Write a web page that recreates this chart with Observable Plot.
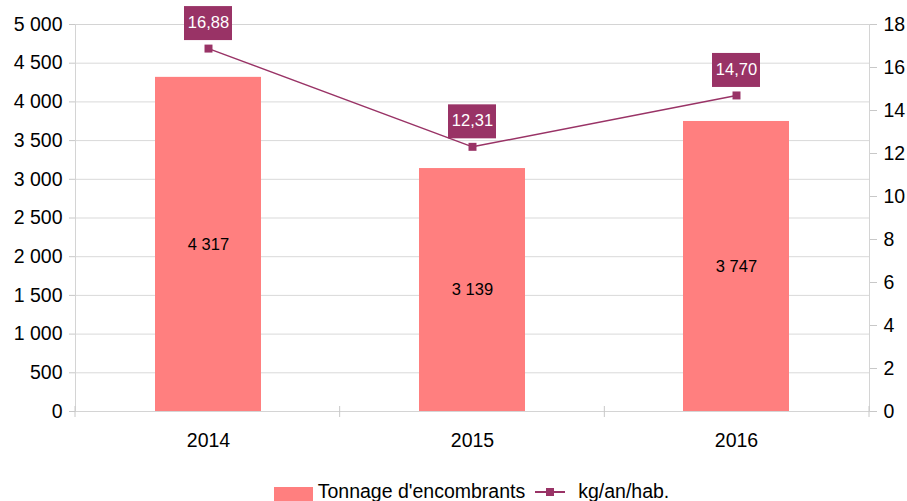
<!DOCTYPE html>
<html>
<head>
<meta charset="utf-8">
<script src="https://cdn.jsdelivr.net/npm/d3@7"></script>
<script src="https://cdn.jsdelivr.net/npm/@observablehq/plot@0.6"></script>
<style>
  html, body { margin: 0; padding: 0; background: #fff; overflow: hidden; }
  body { font-family: "Liberation Sans", Arial, sans-serif; width: 907px; height: 501px; }
  #legend { display: flex; justify-content: center; align-items: center; height: 21px; margin-top: 1px; font-size: 19.5px; color: #000; white-space: nowrap; padding-left: 36px; }
  .sw { display: inline-block; width: 39px; height: 14px; background: #ff7f7f; margin-right: 5px; margin-top: 5px; }
  .ln { display: inline-block; width: 30px; height: 14px; position: relative; margin-left: 10px; margin-right: 13px; }
  .ln::before { content: ""; position: absolute; left: 0; right: 0; top: 6px; height: 2px; background: #993366; }
  .ln::after { content: ""; position: absolute; left: 11px; top: 3px; width: 8px; height: 8px; background: #993366; }
</style>
</head>
<body>
<div id="chart"></div>
<div id="legend"><span class="sw"></span><span>Tonnage d'encombrants</span><span class="ln"></span><span>kg/an/hab.</span></div>
<script>
const years = ["2014", "2015", "2016"];
const tonnage = [4317, 3139, 3747];
const kgHab = [16.88, 12.31, 14.70];
const leftTicks = [0, 500, 1000, 1500, 2000, 2500, 3000, 3500, 4000, 4500, 5000];
const rightTicks = [0, 2, 4, 6, 8, 10, 12, 14, 16, 18];

const leftMax = d3.max(leftTicks);
const rightMax = d3.max(rightTicks);
const ratio = leftMax / rightMax;

const fr = d3.formatLocale({decimal: ",", thousands: " ", grouping: [3], currency: ["", " €"]});
const fmtInt = fr.format(",d");
const fmtDec = fr.format(",.2f");

const data = years.map((y, i) => ({year: y, t: tonnage[i], kg: kgHab[i], kgY: kgHab[i] * ratio}));

const W = 907, H = 480, ML = 75, MR = 38, MT = 24, MB = 69;
const purple = "#993366";
const FS = 19.5;

const catTicks = (index, scales, values, dims) => {
  const g = d3.create("svg:g");
  const step = (dims.width - dims.marginLeft - dims.marginRight) / years.length;
  const y0 = dims.height - dims.marginBottom;
  for (let i = 0; i <= years.length; i++) {
    const x = dims.marginLeft + i * step;
    g.append("line").attr("x1", x).attr("x2", x).attr("y1", y0 - 5).attr("y2", y0 + 6)
      .attr("stroke", "#c8c8c8").attr("stroke-width", 1);
  }
  return g.node();
};

const chart = Plot.plot({
  width: W, height: H,
  marginLeft: ML, marginRight: MR, marginTop: MT, marginBottom: MB,
  style: {fontFamily: "'Liberation Sans', Arial, sans-serif", fontSize: FS + "px", color: "#000", background: "#fff"},
  x: {type: "band", domain: years, paddingInner: 0.6, paddingOuter: 0.3, axis: null},
  y: {domain: [0, leftMax], axis: null},
  marks: [
    Plot.gridY(leftTicks, {stroke: "#d9d9d9", strokeOpacity: 1}),
    Plot.frame({stroke: "#d4d4d4"}),
    catTicks,
    Plot.axisY(leftTicks, {anchor: "left", tickSize: 6, tickPadding: 7, tickFormat: fmtInt, stroke: "#c8c8c8", fill: "#000", fontSize: FS, label: null}),
    Plot.axisY(rightTicks.map(k => k * ratio), {anchor: "right", tickSize: 7, tickPadding: 7, tickFormat: d => String(Math.round(d / ratio)), stroke: "#c8c8c8", fill: "#000", fontSize: FS, label: null}),
    Plot.axisX(years, {tickSize: 0, tickPadding: 22, fontSize: FS, label: null, fill: "#000"}),
    Plot.barY(data, {x: "year", y: "t", fill: "#ff7f7f"}),
    Plot.text(data, {x: "year", y: d => d.t / 2, text: d => fmtInt(d.t), fill: "#000", fontSize: 16.5}),
    Plot.line(data, {x: "year", y: "kgY", stroke: purple, strokeWidth: 1.5}),
    Plot.dot(data, {x: "year", y: "kgY", symbol: "square", r: 4.5, fill: purple, stroke: "none"}),
    Plot.barY(data, {x: "year", y1: "kgY", y2: "kgY", fill: purple, insetTop: -42, insetBottom: 8, insetLeft: 29, insetRight: 29}),
    Plot.text(data, {x: "year", y: "kgY", dy: -26, text: d => fmtDec(d.kg), fill: "#fff", fontSize: 16.5})
  ]
});
document.getElementById("chart").appendChild(chart);
</script>
</body>
</html>
